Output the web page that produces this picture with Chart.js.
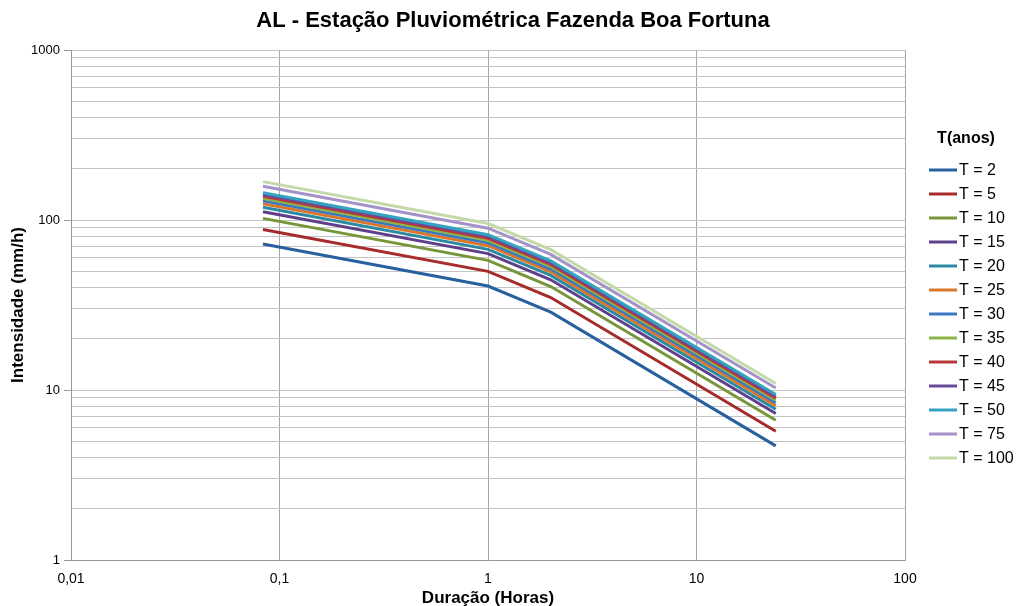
<!DOCTYPE html>
<html><head><meta charset="utf-8">
<script src="https://cdn.jsdelivr.net/npm/chart.js@4/dist/chart.umd.min.js"></script>
<style>html,body{margin:0;padding:0;background:#fff}#wrap{width:1017px;height:606px}</style>
</head><body><div id="wrap"><canvas id="c" width="1017" height="606"></canvas></div>
<script>
const chartTitle = 'AL - Estação Pluviométrica Fazenda Boa Fortuna';
const durations = [0.0833, 1, 2, 24];
const seriesNames = ['T = 2','T = 5','T = 10','T = 15','T = 20','T = 25','T = 30','T = 35','T = 40','T = 45','T = 50','T = 75','T = 100'];
const t2   = [72.2, 40.9, 28.7, 4.69];
const t5   = [88.0, 49.9, 35.0, 5.72];
const t10  = [102.2, 57.9, 40.6, 6.64];
const t15  = [111.9, 63.4, 44.5, 7.27];
const t20  = [118.7, 67.2, 47.2, 7.71];
const t25  = [124.6, 70.6, 49.5, 8.09];
const t30  = [129.6, 73.4, 51.5, 8.42];
const t35  = [134.1, 76.0, 53.3, 8.71];
const t40  = [137.9, 78.1, 54.8, 8.96];
const t45  = [141.4, 80.1, 56.2, 9.19];
const t50  = [144.8, 82.0, 57.5, 9.40];
const t75  = [158.0, 89.5, 62.8, 10.27];
const t100 = [168.2, 95.3, 66.9, 10.93];
const xTicks = [0.01, 0.1, 1, 10, 100];
const xTickLabels = ['0,01', '0,1', '1', '10', '100'];
const yTicks = [1,2,3,4,5,6,7,8,9,10,20,30,40,50,60,70,80,90,100,200,300,400,500,600,700,800,900,1000];
const yTickLabels = {1:'1', 10:'10', 100:'100', 1000:'1000'};

const colors = ['#28609F','#A62B2B','#76963A','#5E3F8A','#2A8AA4','#D9782D','#3B78C2','#8DB447','#B9363A','#6A4B9A','#34A3C0','#A393C8','#C4D9A8'];
const allSeries = [t2,t5,t10,t15,t20,t25,t30,t35,t40,t45,t50,t75,t100];

const datasets = allSeries.map((s, i) => ({
  label: seriesNames[i],
  data: durations.map((d, j) => ({x: d, y: s[j]})),
  borderColor: colors[i],
  backgroundColor: colors[i],
  borderWidth: 3,
  pointRadius: 0,
  tension: 0,
  fill: false,
  order: allSeries.length - i
}));

const textPlugin = {
  id: 'customText',
  afterDraw(chart) {
    const ctx = chart.ctx;
    ctx.save();
    ctx.fillStyle = '#000';
    ctx.textBaseline = 'middle';
    ctx.textAlign = 'center';
    ctx.font = 'bold 22px "Liberation Sans", Arial, sans-serif';
    ctx.fillText(chartTitle, 513, 21);
    ctx.font = 'bold 16px "Liberation Sans", Arial, sans-serif';
    ctx.fillText('T(anos)', 966, 139);
    ctx.font = '16px "Liberation Sans", Arial, sans-serif';
    ctx.textAlign = 'left';
    chart.data.datasets.forEach((ds, i) => {
      const y = 170 + i * 24;
      ctx.strokeStyle = ds.borderColor;
      ctx.lineWidth = 3;
      ctx.beginPath();
      ctx.moveTo(929, y);
      ctx.lineTo(957, y);
      ctx.stroke();
      ctx.fillStyle = '#000';
      ctx.fillText(ds.label, 959, y + 1);
    });
    ctx.restore();
  }
};

new Chart(document.getElementById('c'), {
  type: 'line',
  data: { datasets },
  options: {
    responsive: false,
    animation: false,
    devicePixelRatio: 1,
    layout: { padding: { top: 50, right: 112, bottom: 0, left: 0 } },
    plugins: {
      legend: { display: false },
      tooltip: { enabled: false },
      title: { display: false }
    },
    scales: {
      x: {
        type: 'logarithmic',
        min: 0.01, max: 100,
        afterBuildTicks: (scale) => { scale.ticks = xTicks.map(v => ({ value: v })); },
        afterFit: (scale) => { scale.height = 46; },
        ticks: {
          autoSkip: false, maxRotation: 0, padding: 11,
          color: '#000',
          font: { family: '"Liberation Sans Narrow", "Liberation Sans", Arial, sans-serif', size: 14 },
          callback: (v) => { const k = xTicks.indexOf(v); return k >= 0 ? xTickLabels[k] : ''; }
        },
        grid: { color: '#A6A6A6', lineWidth: 1, drawTicks: false },
        border: { color: '#999999', width: 1 },
        title: {
          display: true, text: 'Duração (Horas)', color: '#000',
          font: { family: '"Liberation Sans", Arial, sans-serif', size: 17, weight: 'bold', lineHeight: 1.2 },
          padding: { top: 0, bottom: -3 }
        }
      },
      y: {
        type: 'logarithmic',
        min: 1, max: 1000,
        afterBuildTicks: (scale) => { scale.ticks = yTicks.map(v => ({ value: v })); },
        afterFit: (scale) => { scale.width = 71; },
        ticks: {
          autoSkip: false, padding: 4,
          color: '#000',
          font: { family: '"Liberation Sans", Arial, sans-serif', size: 13 },
          callback: (v) => yTickLabels[v] !== undefined ? yTickLabels[v] : ''
        },
        grid: {
          color: '#C4C4C4', lineWidth: 1, tickLength: 7,
          tickColor: (c) => (c.tick && yTickLabels[c.tick.value] !== undefined) ? '#999999' : 'rgba(0,0,0,0)'
        },
        border: { color: '#999999', width: 1 },
        title: {
          display: true, text: 'Intensidade (mm/h)', color: '#000',
          font: { family: '"Liberation Sans", Arial, sans-serif', size: 17, weight: 'bold', lineHeight: 1.2 },
          padding: { top: 8, bottom: 0 }
        }
      }
    }
  },
  plugins: [textPlugin]
});
</script></body></html>
